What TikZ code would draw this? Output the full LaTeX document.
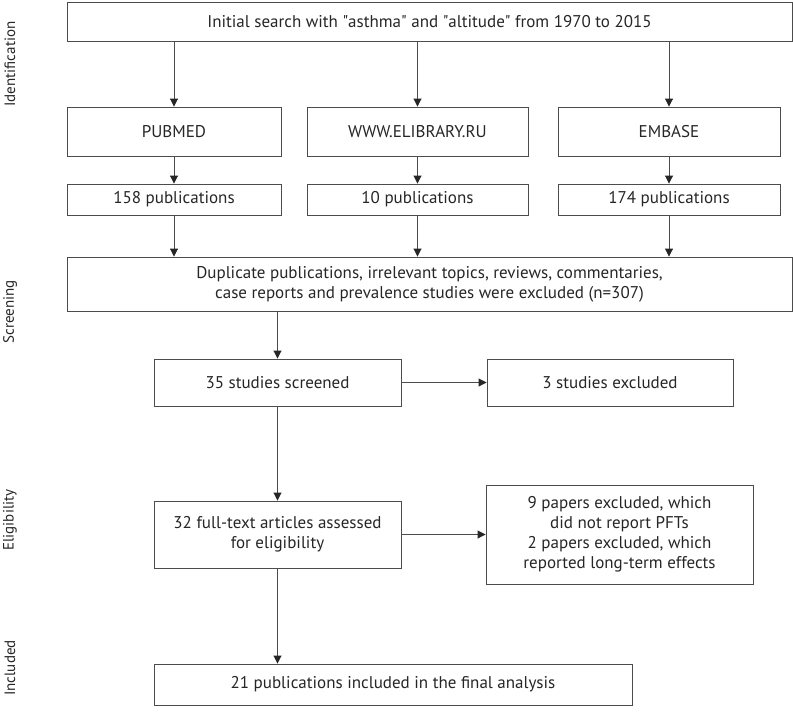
\documentclass[tikz,border=0pt]{standalone}
\usepackage{fontspec}
\setmainfont{PT Sans}
\usetikzlibrary{arrows.meta}

\begin{document}
\begin{tikzpicture}
  [x=1pt,y=-1pt,->,>={Triangle[length=8pt,width=8pt,color=black!85]},line width=0.9pt,draw=black!70,
   every node/.style={font=\fontsize{17}{20}\selectfont,text=black!85,align=center},
   box/.style={draw,rectangle,inner sep=0pt,minimum width=#1},
   stage/.style={rotate=90,font=\fontsize{15}{18}\selectfont}]
  \useasboundingbox (0,0) rectangle (793,713);
  \node[box=725,minimum height=39] (ninit) at (429.5,21.5) {Initial search with \textquotedbl asthma\textquotedbl{} and \textquotedbl altitude\textquotedbl{} from 1970 to 2015};
  \node[box=214,minimum height=49] (npub) at (174,131.5) {PUBMED};
  \node[box=221,minimum height=49] (nlib) at (417.5,131.5) {WWW.ELIBRARY.RU};
  \node[box=222,minimum height=49] (nemb) at (669,131.5) {EMBASE};
  \node[box=214,minimum height=31] (npubn) at (174,199.5) {158 publications};
  \node[box=221,minimum height=31] (nlibn) at (417.5,199.5) {10 publications};
  \node[box=222,minimum height=31] (nembn) at (669,199.5) {174 publications};
  \node[box=725,minimum height=54] (ndup) at (429.5,284) {Duplicate publications, irrelevant topics, reviews, commentaries,\\case reports and prevalence studies were excluded (n=307)};
  \node[box=247,minimum height=47] (nscr) at (277.5,382.5) {35 studies screened};
  \node[box=246,minimum height=47] (nex3) at (610,382.5) {3 studies excluded};
  \node[box=247,minimum height=67] (nfull) at (277.5,534.5) {32 full-text articles assessed\\for eligibility};
  \node[box=267,minimum height=99] (nex11) at (619.5,534.5) {9 papers excluded, which\\did not report PFTs\\2 papers excluded, which\\reported long-term effects};
  \node[box=478,minimum height=41] (nfin) at (393,684.5) {21 publications included in the final analysis};

  \node[stage] (sid) at (10,64) {Identification};
  \node[stage] (ssc) at (10,312) {Screening};
  \node[stage] (sel) at (10,520) {Eligibility};
  \node[stage] (sin) at (10,668) {Included};

  \path (ninit.south -| npub) edge (npub);
  \path (ninit.south -| nlib) edge (nlib);
  \path (ninit.south -| nemb) edge (nemb);
  \path (npub) edge (npubn);
  \path (nlib) edge (nlibn);
  \path (nemb) edge (nembn);
  \path (npubn) edge (npubn |- ndup.north);
  \path (nlibn) edge (nlibn |- ndup.north);
  \path (nembn) edge (nembn |- ndup.north);
  \path (ndup.south -| nscr) edge (nscr);
  \path (nscr) edge (nex3);
  \path (nscr) edge (nfull);
  \path (nfull) edge (nex11);
  \path (nfull) edge (nfull |- nfin.north);

\end{tikzpicture}
\end{document}
